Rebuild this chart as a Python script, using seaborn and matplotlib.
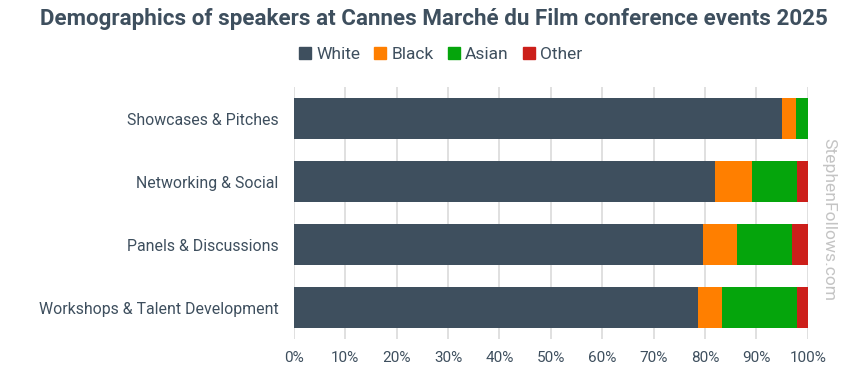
import numpy as np
import pandas as pd
import matplotlib.pyplot as plt
import seaborn as sns

categories = ["Showcases & Pitches", "Networking & Social",
              "Panels & Discussions", "Workshops & Talent Development"]
groups = ["White", "Black", "Asian", "Other"]
white = [95.0, 82.0, 79.6, 78.7]
black = [2.6, 7.2, 6.7, 4.6]
asian = [2.4, 8.6, 10.7, 14.5]
other = [0.0, 2.2, 3.0, 2.2]
colors = ["#3e4f5e", "#ff7f00", "#05a50c", "#cc1f1a"]
ticks = [0, 10, 20, 30, 40, 50, 60, 70, 80, 90, 100]

sns.set_theme(style="white")
plt.rcParams["font.family"] = ["Roboto", "DejaVu Sans"]
text_col = "#3e4f5e"

df = pd.DataFrame({"Event": categories, "White": white, "Black": black,
                   "Asian": asian, "Other": other})

fig = plt.figure(figsize=(8.54, 3.78), dpi=100)
ax = fig.add_axes([0.344, 0.102, 0.602, 0.667])

# stacked horizontal bars: each layer drawn as the cumulative total
left = np.zeros(len(df))
for g, c in zip(groups, colors):
    cum = left + df[g].values
    sns.barplot(x=cum, y=df["Event"], color=c, orient="h", width=0.65,
                saturation=1, ax=ax)
    left = cum

# wider (later) layers must sit behind the narrower ones
for i, patch in enumerate(ax.patches):
    patch.set_zorder(2 + (len(ax.patches) - i) * 0.001)
    patch.set_linewidth(0)

ax.set_xlim(0, 100)
ax.set_ylim(3.5, -0.5)
ax.set_xticks(ticks)
ax.set_xticklabels([f"{t}%" for t in ticks], color=text_col, fontsize=11)
ax.tick_params(axis="y", labelsize=11.4, colors=text_col, length=0, pad=11)
ax.tick_params(axis="x", length=0, pad=8)
ax.set_xlabel("")
ax.set_ylabel("")
ax.grid(axis="x", color="#dadada", linewidth=1.2, zorder=0)
ax.set_axisbelow(True)
sns.despine(ax=ax, left=True, bottom=True)

handles = [plt.Rectangle((0, 0), 1, 1, color=c) for c in colors]
fig.legend(handles, groups, loc="center", bbox_to_anchor=(0.516, 0.855),
           ncol=4, frameon=False, fontsize=12.5, handlelength=0.7,
           handleheight=0.7, handletextpad=0.3, columnspacing=0.8,
           labelcolor=text_col)

fig.text(0.508, 0.95, "Demographics of speakers at Cannes Marché du Film conference events 2025",
         ha="center", va="center", fontsize=16.1, fontweight="bold", color=text_col)
fig.text(0.97, 0.418, "StephenFollows.com", rotation=-90, ha="center",
         va="center", fontsize=12.6, color="#c4c4c4")

fig.savefig("out.png", dpi=100, facecolor="white")
